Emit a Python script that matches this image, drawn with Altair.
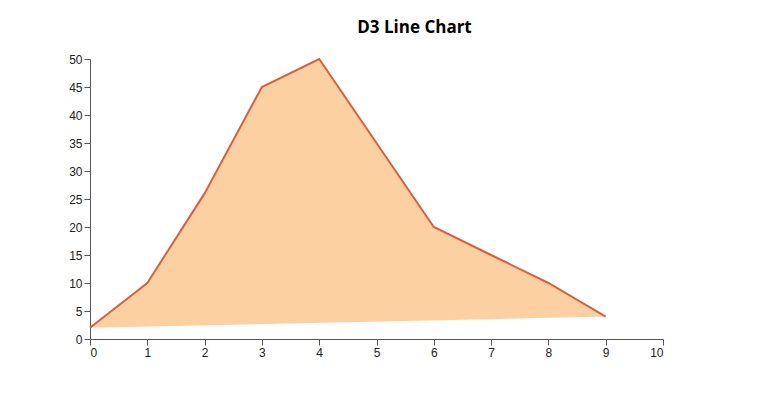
import altair as alt
import pandas as pd

xs = [0, 1, 2, 3, 4, 5, 6, 7, 8, 9]
ys = [2, 10, 26, 45, 50, 35, 20, 15, 10, 4]

df = pd.DataFrame({"x": xs, "y": ys})

line = alt.Chart(df).mark_line(
    stroke="#d9603e", strokeWidth=2, fill="#fdd0a2", fillOpacity=1
).encode(
    x=alt.X("x:Q", scale=alt.Scale(domain=[0, 10], nice=False),
            axis=alt.Axis(title=None, values=list(range(0, 11)), grid=False)),
    y=alt.Y("y:Q", scale=alt.Scale(domain=[0, 50], nice=False),
            axis=alt.Axis(title=None, values=list(range(0, 51, 5)), grid=False)),
    order="x:Q",
)

chart = line.properties(
    width=573,
    height=280,
    autosize=alt.AutoSizeParams(type="none"),
    padding={"left": 82, "top": 51, "right": 20, "bottom": 20},
    title=alt.TitleParams("D3 Line Chart", fontSize=17, font="Open Sans",
                          fontWeight="bold", color="#000", dx=38, offset=16),
).configure_view(stroke=None).configure_axis(
    domainColor="#555", tickColor="#555", tickSize=6,
    labelFont="Arial", labelFontSize=12, labelColor="#222", labelPadding=2,
)

chart.save("out.html", embed_options={"renderer": "svg", "actions": False})
